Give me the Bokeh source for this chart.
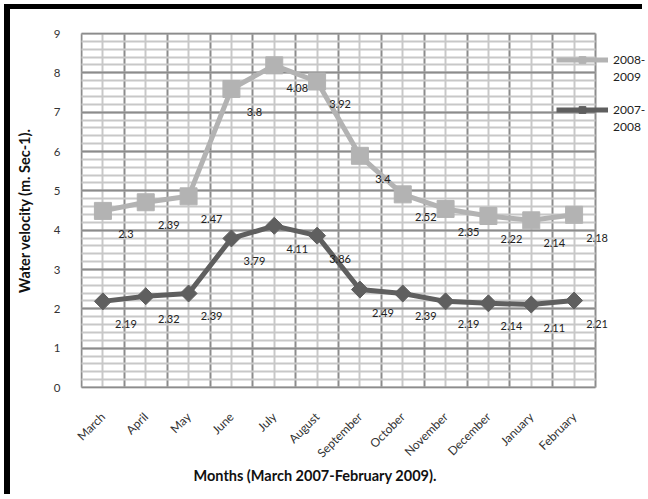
import math
from bokeh.plotting import figure
from bokeh.models import (Range1d, FixedTicker, SingleIntervalTicker, Legend, LegendItem,
                          ColumnDataSource, Title)
from bokeh.embed import file_html
from bokeh.resources import INLINE

months = ["March", "April", "May", "June", "July", "August", "September",
          "October", "November", "December", "January", "February"]
v_2007_2008 = [2.19, 2.32, 2.39, 3.79, 4.11, 3.86, 2.49, 2.39, 2.19, 2.14, 2.11, 2.21]
v_2008_2009 = [2.3, 2.39, 2.47, 3.8, 4.08, 3.92, 3.4, 2.52, 2.35, 2.22, 2.14, 2.18]
y_max = 9

FONT = "Lato"
LIGHT = "#b3b3b3"
DARK = "#5f5f5f"
GRID = "#8c8c8c"
MINOR = "#c8c8c8"

n = len(months)
x = [i + 0.5 for i in range(n)]
stacked = [a + b for a, b in zip(v_2007_2008, v_2008_2009)]

src_dark = ColumnDataSource(dict(x=x, y=v_2007_2008, lab=[f"{v:g}" for v in v_2007_2008]))
src_light = ColumnDataSource(dict(x=x, y=stacked, lab=[f"{v:g}" for v in v_2008_2009]))

# plot box 0..12 spans 514 px; the frame runs on to the right edge so that
# the legend (which overlaps the plot box) is not clipped
W, H = 638, 490
ML, MT, MB = 70, 23, 111
px_x = 514 / n
px_y = 354 / y_max
p = figure(width=W, height=H, output_backend="svg", toolbar_location=None,
           x_range=Range1d(-1 / px_x, (W - ML - 1) / px_x),
           y_range=Range1d(-1 / px_y, y_max + 1 / px_y),
           min_border_left=ML, min_border_right=0, min_border_top=MT, min_border_bottom=MB)
p.styles = {"margin-top": "4px", "margin-left": "4px",
            "border-top": "5px solid black", "border-left": "6px solid black"}

p.outline_line_color = None

# grids (bounded to the plot box)
p.xgrid.ticker = FixedTicker(ticks=list(range(n + 1)),
                             minor_ticks=[i + 0.5 for i in range(n)])
p.xgrid.grid_line_color = GRID
p.xgrid.grid_line_width = 2
p.xgrid.minor_grid_line_color = MINOR
p.xgrid.minor_grid_line_width = 2
p.xgrid.cross_bounds = (0, y_max)

p.yaxis.ticker = SingleIntervalTicker(interval=1, num_minor_ticks=5)
p.ygrid.ticker = SingleIntervalTicker(interval=1, num_minor_ticks=5)
p.ygrid.grid_line_color = GRID
p.ygrid.grid_line_width = 2
p.ygrid.minor_grid_line_color = MINOR
p.ygrid.minor_grid_line_width = 2
p.ygrid.cross_bounds = (0, n)
p.ygrid.bounds = (0, y_max)

# axes
p.xaxis.ticker = FixedTicker(ticks=x)
p.xaxis.major_label_overrides = {xx: m for xx, m in zip(x, months)}
p.xaxis.major_label_orientation = math.pi / 4
for ax in (p.xaxis[0], p.yaxis[0]):
    ax.axis_line_color = None
    ax.major_tick_line_color = None
    ax.minor_tick_line_color = None
    ax.major_tick_out = 0
    ax.major_tick_in = 0
    ax.minor_tick_out = 0
    ax.major_label_text_font = FONT
    ax.major_label_text_font_size = "12px"
    ax.major_label_text_color = "#333333"
    ax.axis_label_text_font = FONT
    ax.axis_label_text_font_style = "bold"
    ax.axis_label_text_font_size = "14.5px"
    ax.axis_label_text_color = "#111111"
p.xaxis.major_label_standoff = 26
p.yaxis.major_label_standoff = 20
p.yaxis.major_label_text_font_size = "11.5px"
p.yaxis.axis_label = "Water velocity (m. Sec-1)."
p.yaxis.axis_label_standoff = 18

p.add_layout(Title(text="Months (March 2007-February 2009).", align="left", offset=113,
                   standoff=-7, text_font=FONT, text_font_style="bold",
                   text_font_size="14.5px", text_color="#111111"), "below")

# series
l1 = p.line("x", "y", source=src_light, line_color=LIGHT, line_width=5)
s1 = p.scatter("x", "y", source=src_light, marker="square", size=17,
               fill_color=LIGHT, line_color=LIGHT)
l2 = p.line("x", "y", source=src_dark, line_color=DARK, line_width=5)
s2 = p.scatter("x", "y", source=src_dark, marker="square", angle=math.pi / 4, size=12,
               fill_color=DARK, line_color=DARK)
blank = p.line(x=[], y=[], line_alpha=0)

for src in (src_light, src_dark):
    p.text("x", "y", text="lab", source=src, x_offset=23, y_offset=23,
           text_align="center", text_baseline="middle", text_font_size="11px",
           text_color="#222222", text_font={"value": FONT})

common = dict(orientation="vertical", glyph_width=52, glyph_height=17, label_height=17,
              label_standoff=5, spacing=0, padding=0, margin=0, border_line_color=None,
              background_fill_alpha=0, label_text_font=FONT, label_text_font_size="12px",
              label_text_color="#222222")
legend_a = Legend(items=[LegendItem(label="2008-", renderers=[l1, s1]),
                         LegendItem(label="2009", renderers=[blank])],
                  location=(476, 303), **common)
legend_b = Legend(items=[LegendItem(label="2007-", renderers=[l2, s2]),
                         LegendItem(label="2008", renderers=[blank])],
                  location=(476, 253), **common)
p.add_layout(legend_a, "center")
p.add_layout(legend_b, "center")

open("out.html", "w").write(file_html(p, INLINE))
